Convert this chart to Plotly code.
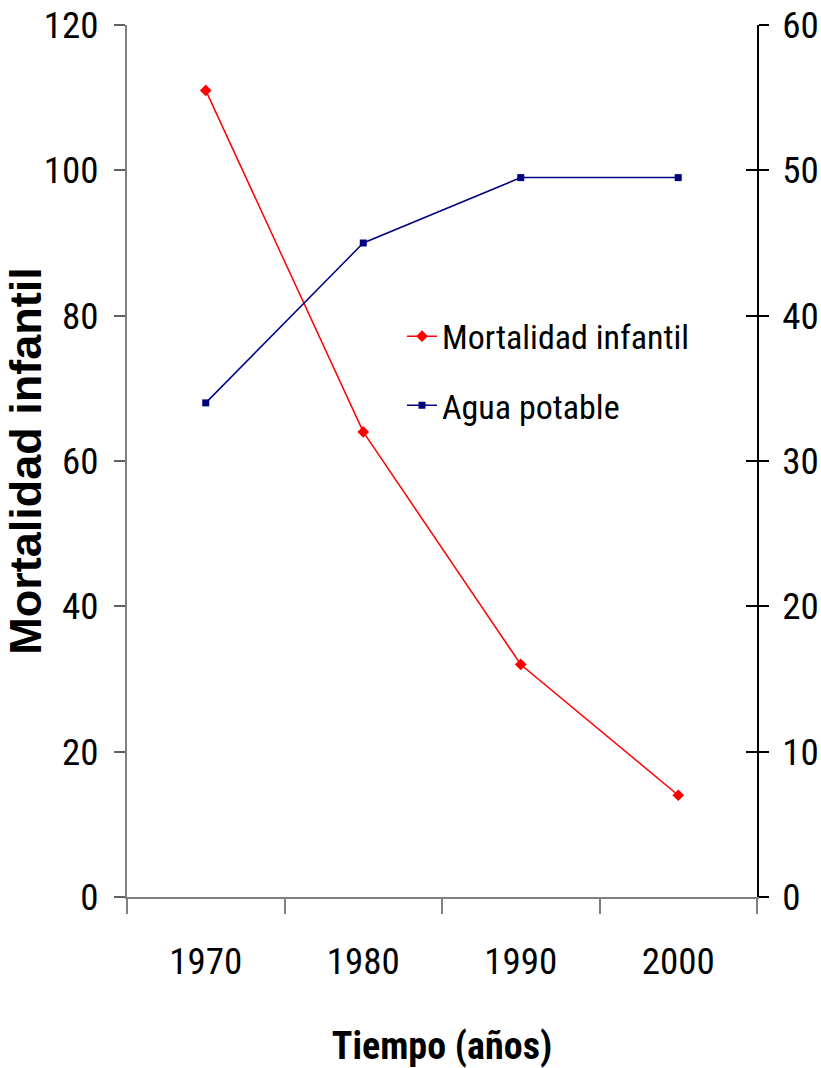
import plotly.graph_objects as go

# Años y series
years = ["1970", "1980", "1990", "2000"]
mortalidad = [111, 64, 32, 14]
agua = [34, 45, 49.5, 49.5]

left_ticks = [0, 20, 40, 60, 80, 100, 120]
right_ticks = [0, 10, 20, 30, 40, 50, 60]

NARROW = "Roboto Condensed, Liberation Sans Narrow, Arial Narrow, sans-serif"
WIDE = "Liberation Sans, Arial, sans-serif"
TICK_SIZE = 37

fig = go.Figure()

fig.add_trace(go.Scatter(
    x=years, y=mortalidad, name="Mortalidad infantil",
    mode="lines+markers", yaxis="y",
    line=dict(color="#FF0000", width=1.5),
    marker=dict(symbol="diamond", size=9, color="#FF0000"),
    legendgroup="a",
))
fig.add_trace(go.Scatter(
    x=years, y=agua, name="Agua potable",
    mode="lines+markers", yaxis="y2",
    line=dict(color="#000080", width=1.5),
    marker=dict(symbol="square", size=7, color="#000080"),
    legendgroup="b",
))

fig.update_layout(
    width=821, height=1068,
    margin=dict(l=127, r=64, t=25, b=171),
    paper_bgcolor="white", plot_bgcolor="white",
    showlegend=True,
    legend=dict(
        x=0.4365, xanchor="left", y=0.676, yanchor="top",
        font=dict(family=NARROW, size=34, color="black"),
        tracegroupgap=22, bgcolor="rgba(0,0,0,0)",
    ),
    xaxis=dict(
        type="category", tickson="boundaries",
        ticks="outside", ticklen=15, tickwidth=1.5, tickcolor="#808080",
        showline=True, linecolor="#808080", linewidth=2,
        showgrid=False, zeroline=False,
        tickfont=dict(family=NARROW, size=TICK_SIZE, color="black"),
        ticklabelstandoff=31,
        range=[-0.5, 3.5],
        title=dict(text="Tiempo (años)", standoff=52,
                   font=dict(family=NARROW, size=38, color="black", weight="bold")),
        automargin=False,
    ),
    yaxis=dict(
        range=[0, 120], tickvals=left_ticks,
        ticks="outside", ticklen=11, tickwidth=1.5, tickcolor="#606060",
        showline=True, linecolor="#808080", linewidth=2,
        showgrid=False, zeroline=False,
        tickfont=dict(family=NARROW, size=TICK_SIZE, color="black"),
        ticklabelstandoff=8,
        title=dict(text="Mortalidad infantil", standoff=12,
                   font=dict(family=WIDE, size=45, color="black", weight="bold")),
        automargin=False,
    ),
    yaxis2=dict(
        range=[0, 60], tickvals=right_ticks, overlaying="y", side="right",
        anchor="x",
        ticks="outside", ticklen=10, tickwidth=1.5, tickcolor="black",
        showline=True, linecolor="black", linewidth=1.5,
        showgrid=False, zeroline=False,
        tickfont=dict(family=NARROW, size=TICK_SIZE, color="black"),
        ticklabelstandoff=6,
        automargin=False,
    ),
    yaxis3=dict(
        range=[0, 60], tickvals=right_ticks, overlaying="y", side="right",
        anchor="x",
        ticks="inside", ticklen=11, tickwidth=1.5, tickcolor="black",
        showline=False, showgrid=False, zeroline=False,
        showticklabels=False, automargin=False,
    ),
)

# An empty trace keeps the inner tick axis on the right side drawn
fig.add_trace(go.Scatter(x=years, y=[None] * len(years), yaxis="y3",
                         showlegend=False, hoverinfo="skip"))

fig.write_html("out.html")
